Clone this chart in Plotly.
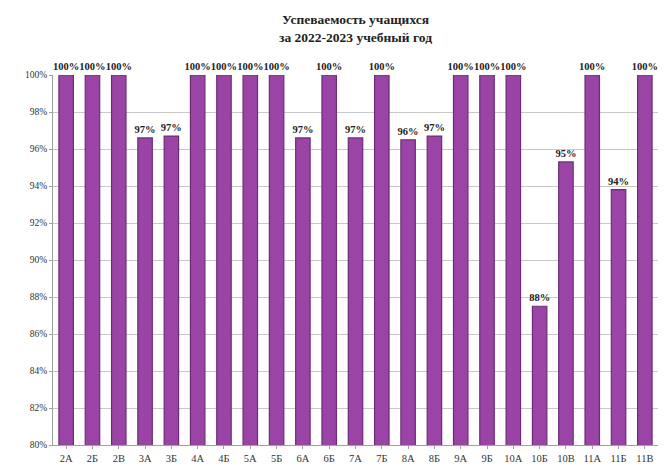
import plotly.graph_objects as go

categories = ["2А", "2Б", "2В", "3А", "3Б", "4А", "4Б", "5А", "5Б", "6А", "6Б", "7А",
              "7Б", "8А", "8Б", "9А", "9Б", "10А", "10Б", "10В", "11А", "11Б", "11В"]
values = [1.0, 1.0, 1.0, 0.966, 0.967, 1.0, 1.0, 1.0, 1.0, 0.966, 1.0, 0.966,
          1.0, 0.965, 0.967, 1.0, 1.0, 1.0, 0.875, 0.953, 1.0, 0.938, 1.0]
labels = ["100%", "100%", "100%", "97%", "97%", "100%", "100%", "100%", "100%", "97%", "100%", "97%",
          "100%", "96%", "97%", "100%", "100%", "100%", "88%", "95%", "100%", "94%", "100%"]
y_ticks = [0.80, 0.82, 0.84, 0.86, 0.88, 0.90, 0.92, 0.94, 0.96, 0.98, 1.00]

fig = go.Figure()
fig.add_trace(go.Bar(
    x=categories, y=values, base=0,
    marker=dict(color="#9A45A6", line=dict(color="#6E2C78", width=1.2)),
    width=0.55,
    text=labels, textposition="outside", cliponaxis=False,
    textfont=dict(family="Liberation Serif", size=10.5, color="#222222"),
))
fig.update_traces(texttemplate="<b>%{text}</b>")

fig.update_layout(
    width=651, height=457,
    paper_bgcolor="white", plot_bgcolor="white",
    margin=dict(l=45, r=1, t=67, b=18),
    title=dict(text="<b>Успеваемость учащихся<br>за 2022-2023 учебный год</b>",
               x=0.5, xanchor="center", xref="paper", y=0.965, yanchor="top",
               font=dict(family="Liberation Serif", size=13.5, color="#222222")),
    showlegend=False,
    uniformtext=dict(minsize=8, mode="show"),
)
fig.update_yaxes(range=[0.80, 1.0], tickvals=y_ticks, tickformat=".0%",
                 showgrid=True, gridcolor="#C8C8C8", gridwidth=1,
                 showline=True, linecolor="#A0A0A0", ticks="outside", tickcolor="#A0A0A0",
                 ticklen=3,
                 tickfont=dict(family="Liberation Serif", size=9.5, color="#333333"))
fig.update_xaxes(showline=True, linecolor="#A0A0A0", ticks="outside", tickcolor="#A0A0A0",
                 ticklen=3,
                 tickfont=dict(family="Liberation Serif", size=10.5, color="#333333"))

fig.write_html("out.html")
